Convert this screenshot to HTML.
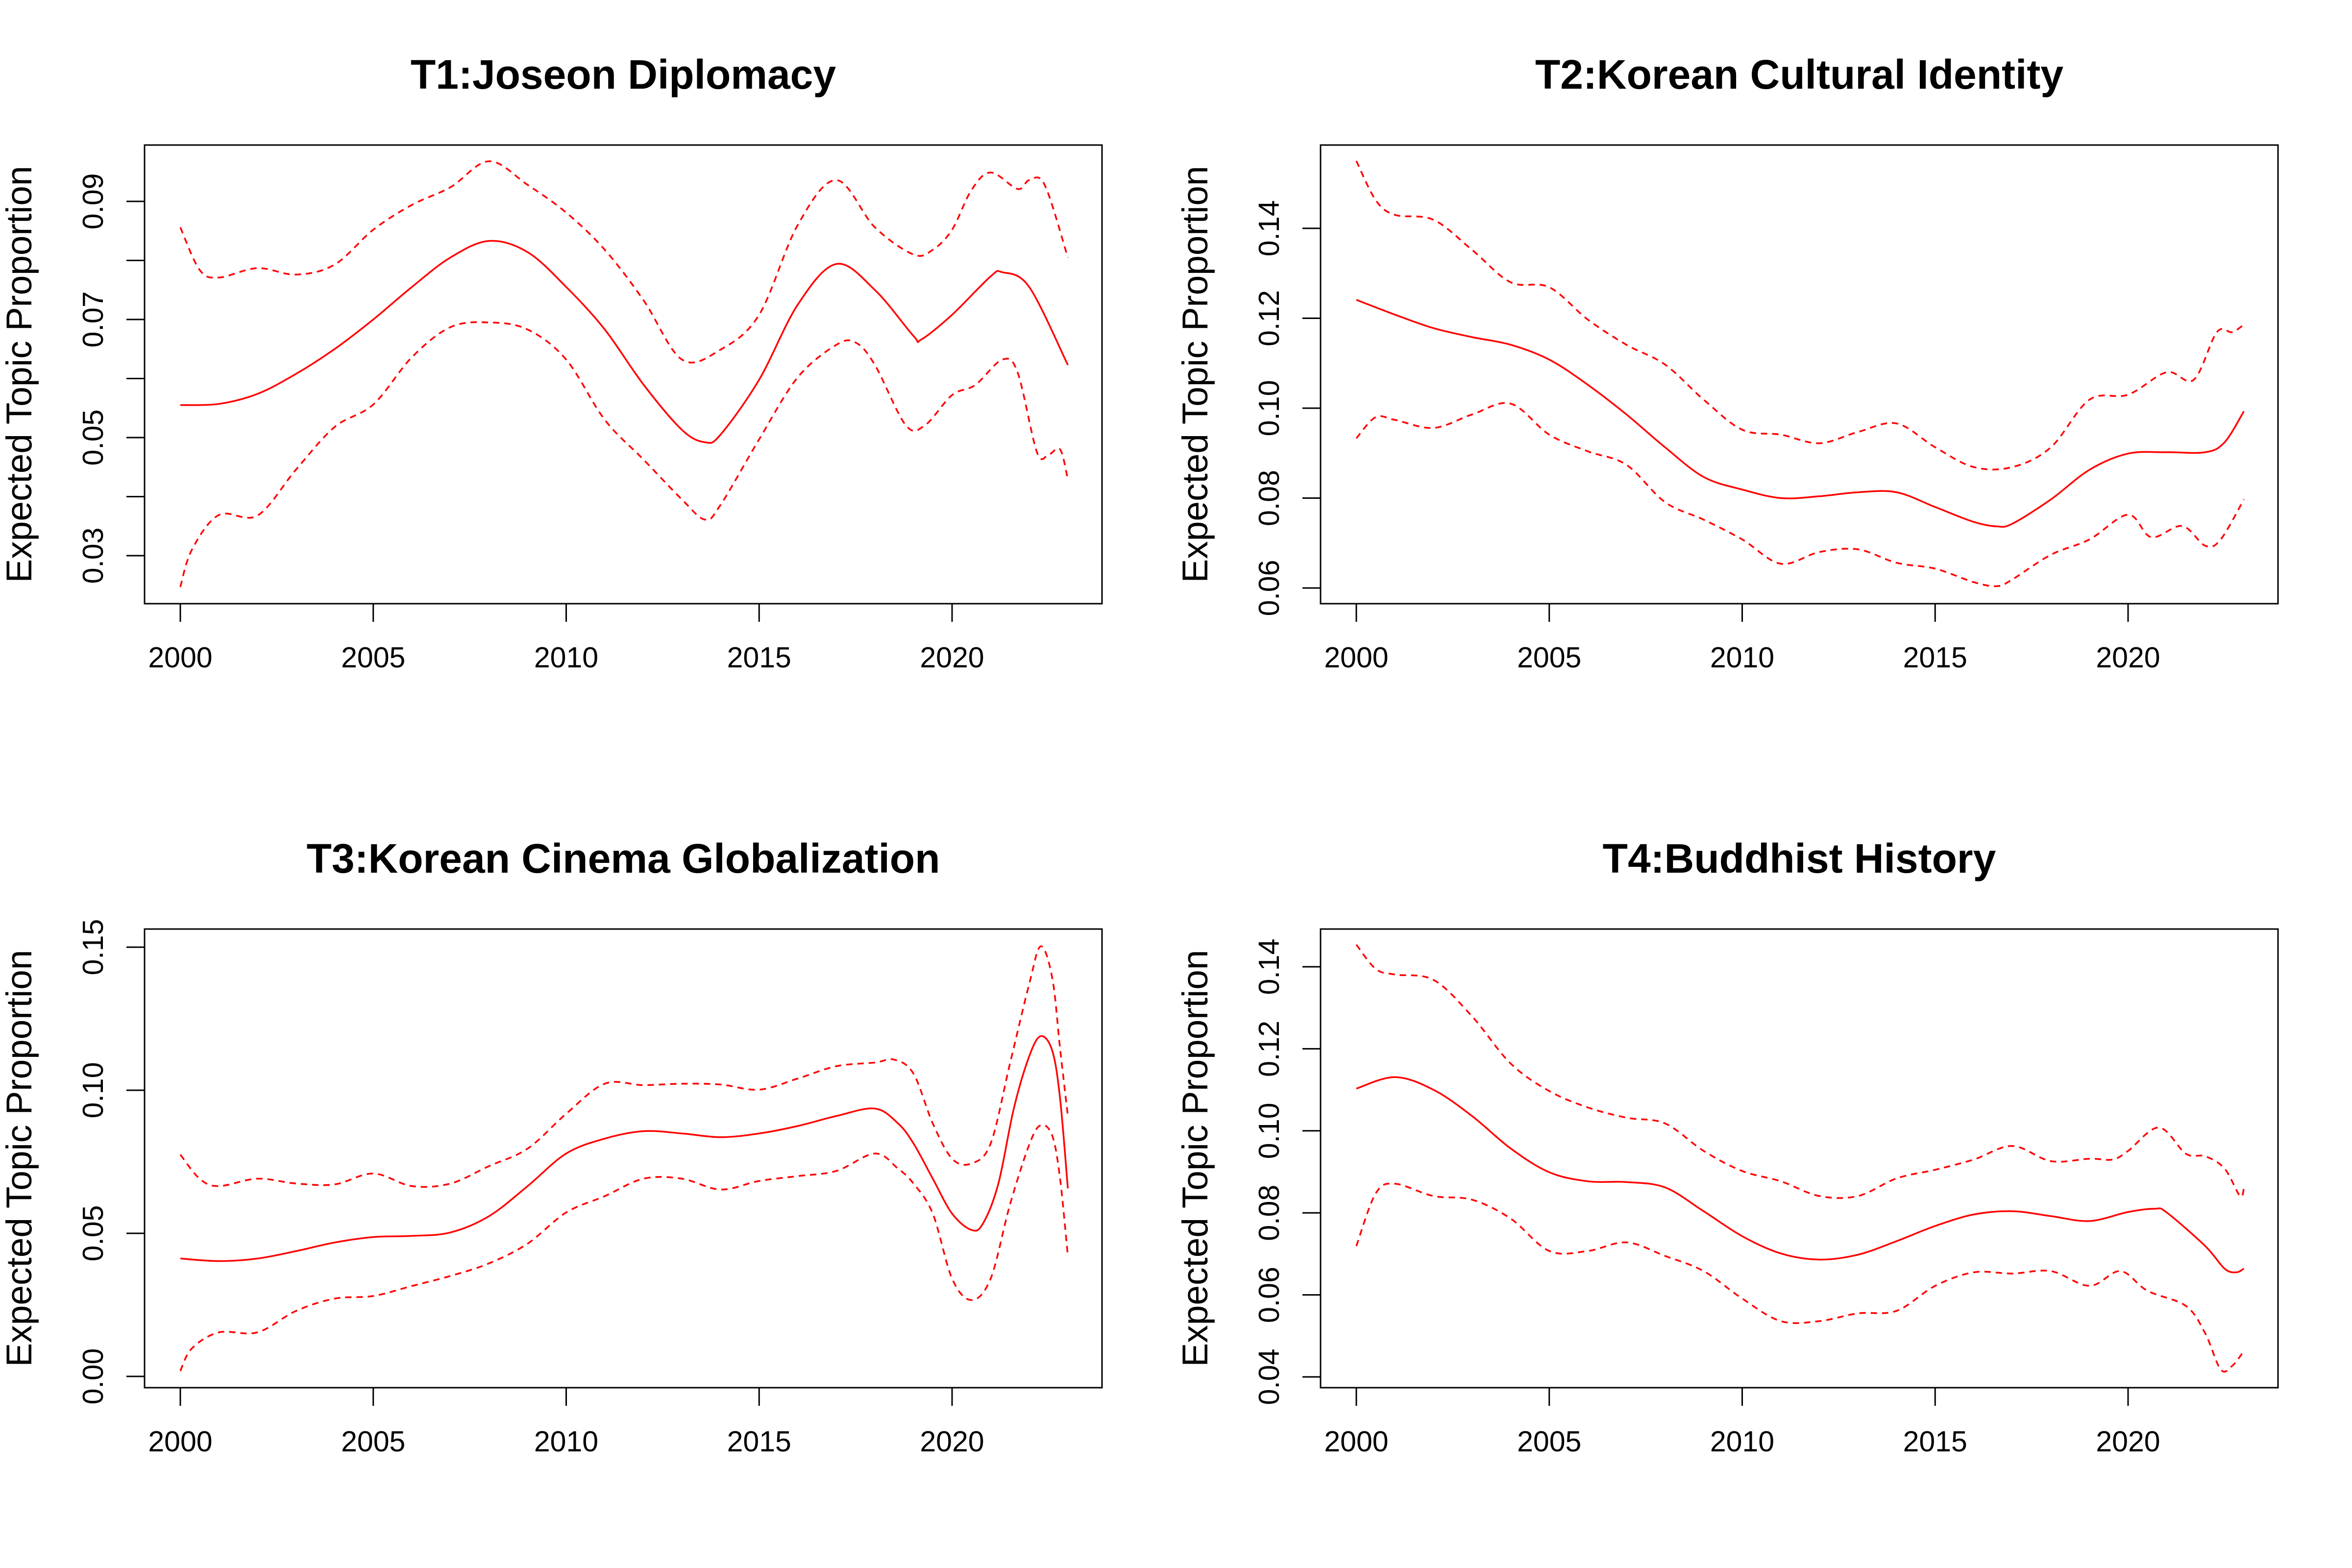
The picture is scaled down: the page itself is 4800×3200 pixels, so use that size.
<!DOCTYPE html>
<html><head><meta charset="utf-8"><style>html,body{margin:0;padding:0;background:#fff}svg{display:block}</style></head>
<body>
<svg id="chart" xmlns="http://www.w3.org/2000/svg" width="4800" height="3200" viewBox="0 0 4800 3200" font-family="Liberation Sans, sans-serif">
<rect width="4800" height="3200" fill="#fff"/>
</svg>
<script>
// ---- data ----
const xTickLabels = [2000, 2005, 2010, 2015, 2020];
const titles = ["T1:Joseon Diplomacy","T2:Korean Cultural Identity","T3:Korean Cinema Globalization","T4:Buddhist History"];

const t1MeanX = [2000,2001,2002,2003,2004,2005,2006,2007,2008,2009,2010,2011,2012,2013,2013.6,2014,2015,2016,2017,2018,2019,2019.2,2020,2021,2021.3,2022,2023];
const t1Mean  = [0.0555,0.0557,0.0574,0.0608,0.065,0.07,0.0755,0.0805,0.0833,0.0814,0.0755,0.0683,0.059,0.0513,0.0492,0.0505,0.0598,0.0725,0.0794,0.075,0.0672,0.0666,0.0708,0.0773,0.078,0.0755,0.0623];
const t1UpX = [2000,2000.5,2001,2002,2003,2004,2005,2006,2007,2008,2009,2010,2011,2012,2013,2014,2015,2016,2017,2018,2019,2019.5,2020,2020.5,2021,2021.7,2022,2022.4,2023];
const t1Up  = [0.0856,0.0784,0.0771,0.0787,0.0776,0.0793,0.0852,0.0894,0.0924,0.0968,0.0928,0.0881,0.0818,0.0733,0.0632,0.0649,0.0708,0.086,0.0936,0.0856,0.081,0.0818,0.0852,0.0919,0.0949,0.0921,0.0936,0.0928,0.0805];
const t1LoX = [2000,2000.3,2001,2002,2003,2004,2005,2006,2007,2008,2009,2010,2011,2012,2013,2013.6,2014,2015,2016,2017,2017.5,2018,2018.8,2019.3,2020,2020.6,2021.3,2021.7,2022.2,2022.5,2022.8,2023];
const t1Lo  = [0.0247,0.031,0.0369,0.0368,0.0446,0.0518,0.0556,0.0636,0.0687,0.0695,0.0683,0.0632,0.053,0.0463,0.0395,0.0361,0.0386,0.0497,0.0602,0.0657,0.0661,0.0623,0.0521,0.0521,0.0572,0.0589,0.0632,0.061,0.0475,0.0471,0.048,0.0429];
const t1Ticks = [0.03,0.04,0.05,0.06,0.07,0.08,0.09];
const t1Labels = ["0.03","","0.05","","0.07","","0.09"];

const t2MeanX = [2000,2001,2002,2003,2004,2005,2006,2007,2008,2009,2010,2011,2012,2013,2014,2015,2016,2016.6,2017,2018,2019,2020,2021,2022,2022.5,2023];
const t2Mean  = [0.1241,0.1208,0.1178,0.1158,0.1141,0.1108,0.1052,0.0986,0.0913,0.0847,0.0819,0.08,0.0804,0.0813,0.0813,0.078,0.0747,0.0737,0.0743,0.0797,0.0863,0.0899,0.0902,0.0902,0.0924,0.0993];
const t2UpX = [2000,2000.5,2001,2002,2003,2004,2005,2006,2007,2008,2009,2010,2011,2012,2013,2014,2015,2016,2017,2018,2019,2020,2021,2021.7,2022.3,2022.7,2023];
const t2Up  = [0.155,0.1463,0.143,0.1419,0.1352,0.128,0.1269,0.1197,0.1141,0.1097,0.1019,0.0952,0.0941,0.0922,0.0947,0.0966,0.0913,0.0869,0.0869,0.0913,0.1019,0.103,0.108,0.1063,0.1169,0.1169,0.1186];
const t2LoX = [2000,2000.5,2001,2002,2003,2004,2005,2006,2007,2008,2009,2010,2011,2012,2013,2014,2015,2016,2016.6,2017,2018,2019,2020,2020.6,2021.4,2022,2022.4,2023];
const t2Lo  = [0.0933,0.098,0.0974,0.0956,0.0986,0.101,0.0941,0.0904,0.0874,0.0791,0.0752,0.0708,0.0654,0.068,0.0686,0.0656,0.0643,0.0613,0.0604,0.0619,0.0674,0.0708,0.0763,0.0713,0.0738,0.0694,0.0708,0.0797];
const t2Ticks = [0.06,0.08,0.10,0.12,0.14];
const t2Labels = ["0.06","0.08","0.10","0.12","0.14"];

const t3MeanX = [2000,2001,2002,2003,2004,2005,2006,2007,2008,2009,2010,2011,2012,2013,2014,2015,2016,2017,2018,2018.6,2019,2019.5,2020,2020.5,2020.8,2021.2,2021.6,2022,2022.3,2022.6,2022.8,2023];
const t3Mean  = [0.0412,0.0403,0.0412,0.0438,0.0468,0.0487,0.0491,0.0503,0.056,0.0665,0.0779,0.0831,0.0857,0.0849,0.0836,0.0849,0.0875,0.091,0.0936,0.0884,0.0814,0.0691,0.0569,0.0512,0.0534,0.0674,0.0936,0.1119,0.1189,0.1137,0.097,0.0657];
const t3UpX = [2000,2000.5,2001,2002,2003,2004,2005,2006,2007,2008,2009,2010,2011,2012,2013,2014,2015,2016,2017,2018,2018.5,2019,2019.5,2020,2020.5,2021,2021.5,2022,2022.3,2022.6,2022.8,2023];
const t3Up  = [0.0775,0.0691,0.0665,0.0691,0.0674,0.0671,0.0709,0.0665,0.0674,0.0735,0.0796,0.0918,0.1023,0.1018,0.1023,0.102,0.1002,0.1041,0.1084,0.1097,0.1107,0.1058,0.0884,0.0761,0.0744,0.0814,0.1093,0.1372,0.1503,0.139,0.1145,0.091];
const t3LoX = [2000,2000.3,2001,2002,2003,2004,2005,2006,2007,2008,2009,2010,2011,2012,2013,2014,2015,2016,2017,2018,2018.6,2019,2019.5,2020,2020.5,2021,2021.5,2022,2022.3,2022.6,2022.8,2023];
const t3Lo  = [0.0019,0.0098,0.0154,0.0154,0.0229,0.0272,0.0281,0.0316,0.0351,0.0395,0.0464,0.0573,0.063,0.0691,0.0691,0.0653,0.0683,0.07,0.0718,0.0779,0.0726,0.0674,0.0569,0.0342,0.0267,0.0342,0.0600,0.0810,0.0878,0.0840,0.0690,0.0421];
const t3Ticks = [0.00,0.05,0.10,0.15];
const t3Labels = ["0.00","0.05","0.10","0.15"];

const t4MeanX = [2000,2001,2002,2003,2004,2005,2006,2007,2008,2009,2010,2011,2012,2013,2014,2015,2016,2017,2018,2019,2020,2020.7,2021,2022,2022.5,2022.8,2023];
const t4Mean  = [0.1103,0.1131,0.11,0.1036,0.0957,0.0899,0.0877,0.0875,0.0862,0.0804,0.0743,0.0701,0.0686,0.0698,0.0731,0.0768,0.0796,0.0804,0.0792,0.078,0.0802,0.081,0.0801,0.0719,0.0664,0.0655,0.0664];
const t4UpX = [2000,2000.5,2001,2002,2003,2004,2005,2006,2007,2008,2009,2010,2011,2012,2013,2014,2015,2016,2017,2018,2019,2019.6,2020,2020.8,2021.5,2022,2022.5,2022.9,2023];
const t4Up  = [0.1454,0.1395,0.1381,0.1368,0.1279,0.1164,0.1097,0.1057,0.1032,0.1018,0.0951,0.0902,0.0877,0.0841,0.0841,0.0884,0.0905,0.093,0.0963,0.0926,0.0932,0.093,0.0951,0.1008,0.0944,0.0938,0.0908,0.0841,0.0859];
const t4LoX = [2000,2000.5,2001,2002,2003,2004,2005,2006,2007,2008,2009,2010,2011,2012,2013,2014,2015,2016,2017,2018,2019,2019.8,2020.5,2021.5,2022,2022.4,2022.7,2023];
const t4Lo  = [0.0719,0.0847,0.0871,0.0841,0.0832,0.0786,0.0707,0.0707,0.0728,0.0695,0.0658,0.0591,0.0536,0.0536,0.0555,0.0561,0.0622,0.0655,0.0652,0.0658,0.0622,0.0658,0.061,0.0573,0.0506,0.0418,0.0427,0.0463];
const t4Ticks = [0.04,0.06,0.08,0.10,0.12,0.14];
const t4Labels = ["0.04","0.06","0.08","0.10","0.12","0.14"];

// ---- layout ----
const NS = "http://www.w3.org/2000/svg";
const svg = document.getElementById("chart");
function mk(tag, attrs, parent){const e=document.createElementNS(NS,tag);for(const k in attrs)e.setAttribute(k,attrs[k]);(parent||svg).appendChild(e);return e;}

const panels = [
  {ox:0,oy:0,title:titles[0],ticks:t1Ticks,labels:t1Labels,vTop:0.09,yTop:411,vBot:0.03,yBot:1134,
   mean:[t1MeanX,t1Mean],up:[t1UpX,t1Up],lo:[t1LoX,t1Lo]},
  {ox:2400,oy:0,title:titles[1],ticks:t2Ticks,labels:t2Labels,vTop:0.14,yTop:466,vBot:0.06,yBot:1200,
   mean:[t2MeanX,t2Mean],up:[t2UpX,t2Up],lo:[t2LoX,t2Lo]},
  {ox:0,oy:1600,title:titles[2],ticks:t3Ticks,labels:t3Labels,vTop:0.15,yTop:333,vBot:0.00,yBot:1209,
   mean:[t3MeanX,t3Mean],up:[t3UpX,t3Up],lo:[t3LoX,t3Lo]},
  {ox:2400,oy:1600,title:titles[3],ticks:t4Ticks,labels:t4Labels,vTop:0.14,yTop:373,vBot:0.04,yBot:1210,
   mean:[t4MeanX,t4Mean],up:[t4UpX,t4Up],lo:[t4LoX,t4Lo]}
];

function smoothPath(pts){
  let d="M"+pts[0][0].toFixed(1)+","+pts[0][1].toFixed(1);
  for(let i=0;i<pts.length-1;i++){
    const p0=pts[i-1]||pts[i],p1=pts[i],p2=pts[i+1],p3=pts[i+2]||pts[i+1];
    const t=6;
    const c1=[p1[0]+(p2[0]-p0[0])/t,p1[1]+(p2[1]-p0[1])/t];
    const c2=[p2[0]-(p3[0]-p1[0])/t,p2[1]-(p3[1]-p1[1])/t];
    d+=" C"+c1[0].toFixed(1)+","+c1[1].toFixed(1)+" "+c2[0].toFixed(1)+","+c2[1].toFixed(1)+" "+p2[0].toFixed(1)+","+p2[1].toFixed(1);
  }
  return d;
}

panels.forEach((p,idx)=>{
  const g=mk("g",{transform:`translate(${p.ox},${p.oy})`});
  
  
  const L=295,R=2249,T=296,B=1232;
  const xs=yr=>368+(yr-2000)*78.75;
  const ys=v=>p.yTop+(p.vTop-v)*(p.yBot-p.yTop)/(p.vTop-p.vBot);

  const title=mk("text",{x:(L+R)/2,y:181,"text-anchor":"middle","font-size":84,"font-weight":"bold",fill:"#000"},g);
  title.textContent=p.title;
  
  

  const box=mk("rect",{x:L,y:T,width:R-L,height:B-T,fill:"none",stroke:"#000","stroke-width":3},g);
  
  

  const xa=mk("g",{},g);
  
  
  mk("line",{x1:xs(2000),x2:xs(2020),y1:B,y2:B,stroke:"#000","stroke-width":3},xa);
  xTickLabels.forEach(v=>{
    mk("line",{x1:xs(v),x2:xs(v),y1:B,y2:B+37,stroke:"#000","stroke-width":3},xa);
    const t=mk("text",{x:xs(v),y:1362,"text-anchor":"middle","font-size":59,fill:"#000"},xa);
    t.textContent=v;
    
    
  });

  const ya=mk("g",{},g);
  
  
  mk("line",{x1:L,x2:L,y1:ys(p.ticks[0]),y2:ys(p.ticks[p.ticks.length-1]),stroke:"#000","stroke-width":3},ya);
  p.ticks.forEach((v,i)=>{
    const y=ys(v);
    mk("line",{x1:L,x2:L-37,y1:y,y2:y,stroke:"#000","stroke-width":3},ya);
    if(p.labels[i]){
      const t=mk("text",{x:0,y:0,transform:`translate(210,${y}) rotate(-90)`,"text-anchor":"middle","font-size":59,fill:"#000"},ya);
      t.textContent=p.labels[i];
      
      
    }
  });
  const yt=mk("text",{x:0,y:0,transform:`translate(64,${(T+B)/2}) rotate(-90)`,"text-anchor":"middle","font-size":73,fill:"#000"},g);
  yt.textContent="Expected Topic Proportion";
  
  

  const series=[["mean",p.mean,null],["upper-ci",p.up,"13 10"],["lower-ci",p.lo,"13 10"]];
  series.forEach(([nm,[X,Y],dash])=>{
    const pts=X.map((x,i)=>[xs(x),ys(Y[i])]);
    const a={d:smoothPath(pts),fill:"none",stroke:"#ff0000","stroke-width":3.5,"stroke-linejoin":"round"};
    if(dash)a["stroke-dasharray"]=dash;
    const path=mk("path",a,g);
    
    
  });
});
</script>
</body></html>
